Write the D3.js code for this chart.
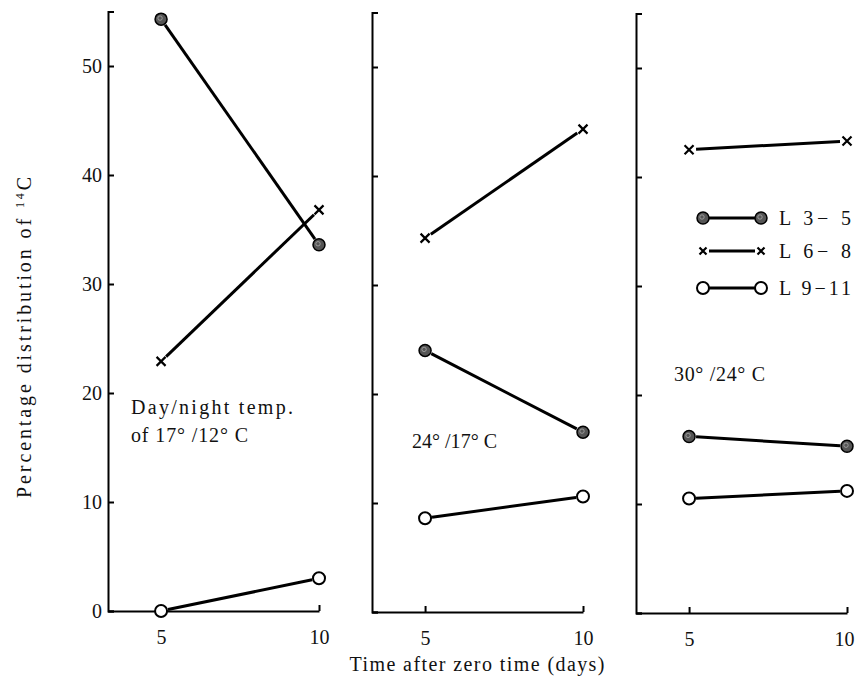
<!DOCTYPE html>
<html>
<head>
<meta charset="utf-8">
<script src="https://cdn.jsdelivr.net/npm/d3@7"></script>
<style>
body { margin: 0; background: #fff; }
svg text { font-family: "Liberation Serif", "DejaVu Serif", serif; fill: #111; }
</style>
</head>
<body>
<div id="chart"></div>
<script>
// values, one entry per panel: [day 5, day 10]
const days = [5, 10];
const l35 = [[54.3, 33.6], [24.0, 16.5], [16.2, 15.3]];
const l68 = [[22.9, 36.8], [34.3, 44.3], [42.5, 43.3]];
const l911 = [[0.0, 3.0], [8.6, 10.6], [10.5, 11.2]];
const yTicks = [0, 10, 20, 30, 40, 50];
const xTicks = [5, 10];
const seriesNames = ['L 3\u2212 5', 'L 6\u2212 8', 'L 9\u221211'];
const notes = [['Day/night temp.', 'of 17\u00b0 /12\u00b0 C'], ['24\u00b0 /17\u00b0 C'], ['30\u00b0 /24\u00b0 C']];

const width = 857, height = 680;
const svg = d3.select('#chart').append('svg')
    .attr('width', width)
    .attr('height', height);

svg.append('rect').attr('width', width).attr('height', height).attr('fill', '#fff');

const series = [
    { name: seriesNames[0], vals: l35, marker: 'dot' },
    { name: seriesNames[1], vals: l68, marker: 'cross' },
    { name: seriesNames[2], vals: l911, marker: 'open' }
];

// scanned panels sit a little skewed, so each gets its own origin
const lefts = [108, 372, 636];
const bottoms = [611, 612, 613];
const panelW = 211;
const panelH = 599.5;

function drawMarker(g, type, cx, cy, s) {
    if (type === 'dot') {
        g.append('circle').attr('cx', cx).attr('cy', cy).attr('r', 6)
            .attr('fill', '#555').attr('stroke', '#000').attr('stroke-width', 1.5);
        g.append('circle').attr('cx', cx - 1).attr('cy', cy - 1).attr('r', 2.2)
            .attr('fill', 'none').attr('stroke', '#aaa').attr('stroke-width', 0.8);
    } else if (type === 'open') {
        g.append('circle').attr('cx', cx).attr('cy', cy).attr('r', 6)
            .attr('fill', '#fff').attr('stroke', '#000').attr('stroke-width', 2);
    } else {
        g.append('path')
            .attr('d', `M${cx - s},${cy - s}L${cx + s},${cy + s}M${cx - s},${cy + s}L${cx + s},${cy - s}`)
            .attr('stroke', '#000').attr('stroke-width', 2.2).attr('fill', 'none');
    }
}

function shortLine(g, x0, y0, x1, y1, gap) {
    const dx = x1 - x0, dy = y1 - y0;
    const len = Math.sqrt(dx * dx + dy * dy);
    const ux = dx / len, uy = dy / len;
    g.append('line')
        .attr('x1', x0 + ux * gap).attr('y1', y0 + uy * gap)
        .attr('x2', x1 - ux * gap).attr('y2', y1 - uy * gap)
        .attr('stroke', '#000').attr('stroke-width', 3);
}

lefts.forEach((left, i) => {
    const g = svg.append('g').attr('transform', 'translate(' + left + ',0)');

    const x = d3.scaleLinear().domain([3.32, 10]).range([0, panelW]);
    const y = d3.scaleLinear().domain([0, 55]).range([bottoms[i], bottoms[i] - panelH]);

    const yAxis = d3.axisLeft(y)
        .tickValues(yTicks)
        .tickFormat(d3.format('d'))
        .tickSizeInner(-6)
        .tickSizeOuter(-6)
        .tickPadding(6);
    if (i > 0) yAxis.tickFormat('');

    const ya = g.append('g').call(yAxis);
    ya.select('.domain').attr('stroke', '#000').attr('stroke-width', 2);
    ya.selectAll('.tick line').attr('stroke', '#000').attr('stroke-width', 2);
    ya.selectAll('.tick text').style('font-size', '20px').attr('fill', '#111');

    const xa = g.append('g')
        .attr('transform', 'translate(0,' + bottoms[i] + ')')
        .call(d3.axisBottom(x).tickValues(xTicks).tickFormat(d3.format('d'))
            .tickSizeInner(-6).tickSizeOuter(0).tickPadding(19));
    xa.select('.domain').attr('stroke', '#000').attr('stroke-width', 2);
    xa.selectAll('.tick line').attr('stroke', '#000').attr('stroke-width', 2);
    xa.selectAll('.tick text').style('font-size', '20px').attr('fill', '#111');
    // last label of the right panel would touch the page edge
    if (i === 2) xa.selectAll('.tick text').filter(d => d === 10).attr('dx', -3);

    series.forEach(s => {
        const v = s.vals[i];
        const px0 = x(days[0]), py0 = y(v[0]);
        const px1 = x(days[1]), py1 = y(v[1]);
        shortLine(g, px0, py0, px1, py1, 7);
        drawMarker(g, s.marker, px0, py0, 4.5);
        drawMarker(g, s.marker, px1, py1, 4.5);
    });
});

// condition notes inside each panel
const noteSpots = [[[131, 414, 162], [131, 442, 117]], [[412, 448, 85]], [[674, 381, 91]]];
notes.forEach((lines, i) => {
    lines.forEach((t, j) => {
        const p = noteSpots[i][j];
        svg.append('text')
            .attr('x', p[0]).attr('y', p[1])
            .attr('textLength', p[2])
            .attr('lengthAdjust', 'spacing')
            .style('font-size', '20px')
            .text(t);
    });
});

// legend in the right panel
const legRows = [218, 251, 288];
series.forEach((s, k) => {
    const ly = legRows[k];
    svg.append('line')
        .attr('x1', 709).attr('x2', 755).attr('y1', ly).attr('y2', ly)
        .attr('stroke', '#000').attr('stroke-width', 3);
    drawMarker(svg, s.marker, 703, ly, 3.5);
    drawMarker(svg, s.marker, 761, ly, 3.5);
    svg.append('text')
        .attr('x', 779).attr('y', ly + 7)
        .attr('textLength', 72)
        .attr('lengthAdjust', 'spacing')
        .style('font-size', '20px')
        .text(s.name);
});

// axis titles
svg.append('text')
    .attr('x', 477).attr('y', 671)
    .attr('text-anchor', 'middle')
    .attr('textLength', 255)
    .attr('lengthAdjust', 'spacing')
    .style('font-size', '20px')
    .text('Time after zero time (days)');

const yt = svg.append('text')
    .attr('transform', 'translate(31,336) rotate(-90)')
    .attr('text-anchor', 'middle')
    .style('font-size', '20px')
    .style('letter-spacing', '2.9px');
yt.append('tspan').text('Percentage distribution of ');
yt.append('tspan').attr('dy', -7).style('font-size', '12px').text('14');
yt.append('tspan').attr('dy', 7).text('C');
</script>
</body>
</html>
